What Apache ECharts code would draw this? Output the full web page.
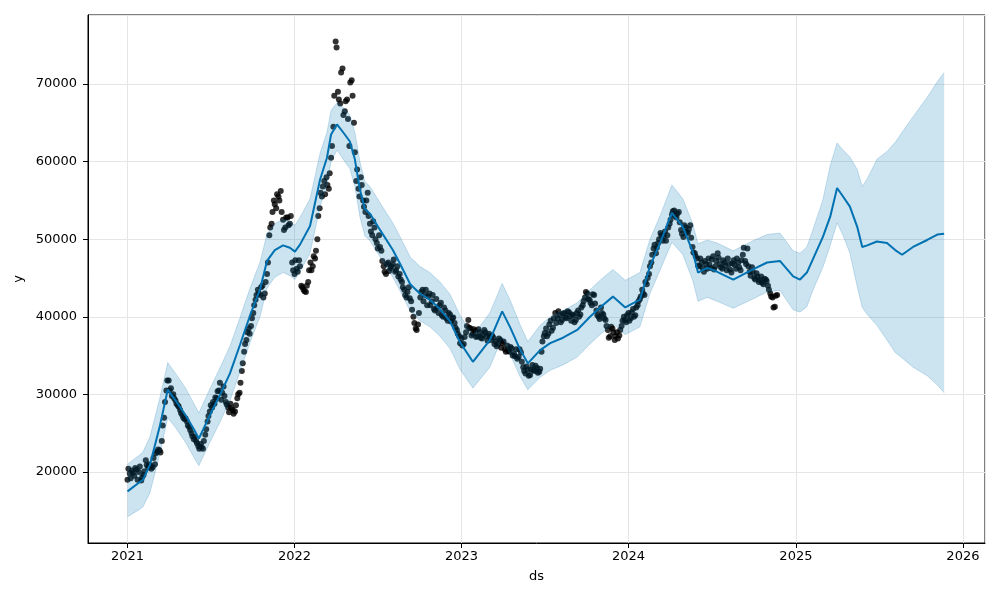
<!DOCTYPE html>
<html>
<head>
<meta charset="utf-8">
<script src="https://cdn.jsdelivr.net/npm/echarts@6/dist/echarts.min.js"></script>
<style>html,body{margin:0;padding:0;background:#fff}#c{width:1000px;height:600px}</style>
</head>
<body>
<div id="c"></div>
<script>
// ---- data ----
const startDate = '2021-01-01';
const obsStepDays = 5;   // observed samples every 5 days from startDate
const obsOffsetB = 2;    // second set of observed samples, 2 days after each of the first
const obsY = [
19000,19800,20200,19500,20300,20000,18900,19600,21500,20600,20800,
20600,21000,22600,22800,24000,27000,30500,31800,30800,30000,
29200,28600,28000,27300,26800,26500,25800,25000,24200,24000,23300,23600,23000,
24800,26500,27800,28300,28800,29500,30500,29300,31000,29000,28300,28800,28000,27800,29500,30200,
33000,35500,37000,38500,38800,40500,42200,43500,42800,44000,43000,45500,
50500,52000,55000,54000,55500,56200,52500,51500,52800,52000,
47000,45500,46200,47300,44000,43500,43200,44500,
47000,46500,47500,50000,
54000,55500,57500,58000,56500,60500,64500,75500,69000,67500,72000,66500,68000,62000,70500,65000,
57500,56500,58000,55000,53500,56000,52000,50500,51500,49500,50500,
48500,46500,45500,47000,46300,46800,45800,46500,45500,44500,
43500,42500,43800,42000,40000,38500,39000,42500,43500,42800,41500,43000,42000,41000,42300,40500,41800,40000,40800,39500,
40300,39800,39200,38300,37500,37200,
36500,38000,39600,38500,37800,38200,37500,38000,37200,38300,37500,37800,37000,37300,
36800,36500,37000,36600,35800,36300,35500,35900,35200,35800,34800,35400,33500,32700,33200,32500,33800,33000,33400,32900,
35500,37500,38500,37800,39500,38600,40500,39800,40200,39600,
40500,39800,40600,39500,40200,39600,40800,40300,41500,42500,43000,42200,41500,42800,40800,40000,41200,40300,39600,38300,37500,38500,37000,38000,37600,38800,
40000,39300,40500,39800,41000,40200,41500,42300,43500,42800,44200,45500,47000,48800,48200,49500,50800,49800,51000,50500,52000,53200,53700,52800,53500,51200,50300,51500,50800,51800,49000,48200,47500,46500,
47000,45800,46800,47500,46300,47800,46500,48200,46800,46200,47000,46000,46800,45700,47300,46200,47000,46000,48000,47200,48800,45800,46400,45000,45600,44500,45200,44200,44800,44000,43000,42500,41300,42800
];
const obsYB = [
20400,19200,19900,20500,19000,20700,19300,20100,20900,21000,20400,
21800,22400,22900,22500,26000,29000,31800,30500,29800,29500,
28800,28400,27600,27000,26900,26000,25400,24600,24500,23700,23000,23200,24000,
25500,27200,28600,29000,29600,30400,31500,30200,29800,28700,27700,28200,27500,28600,30000,31500,
34000,36500,38000,37800,39800,41500,42800,43000,43800,42500,44500,47000,
51500,53500,54500,55800,55000,53500,51200,52800,51800,53000,
46000,47300,45800,46500,43800,43300,44000,46000,
46000,47800,48500,53000,
56000,56800,55800,57000,58500,62000,68500,74700,68000,71500,66000,67800,65500,70200,68500,61200,
59000,55500,57000,54200,55000,53000,51000,52300,50000,48800,49000,
47200,45800,46800,45900,46500,47400,46000,45200,44800,43800,
42800,43200,42400,40900,39200,38300,40500,43200,42000,43500,42600,41500,42800,40800,41200,41500,40200,41200,39800,40500,
39400,39900,38600,37800,36600,36300,
37400,38800,38600,37600,38400,37400,38400,37300,37700,38000,36900,37500,37600,36500,
36200,37200,36000,36800,35500,35600,36100,35000,34900,34600,35800,34200,33000,33600,32400,33200,33100,33700,32800,33300,
36800,37900,37500,39000,38200,39800,39200,40700,39300,40400,
39900,40700,40100,40300,39300,40500,40000,41200,42000,43200,42300,41800,42900,41700,40200,39700,40500,39800,38800,37300,38700,38000,37500,37200,38300,39500,
39600,40200,39500,40600,40000,41200,42000,42600,43000,44500,45000,46500,48000,49300,48900,50000,50500,50400,49800,51500,52500,53600,53000,53300,52200,50700,51800,50900,51300,50200,48300,47800,46600,47500,
46300,47200,46200,46700,47400,46100,47200,47600,46400,47300,46600,47500,46100,46900,46700,47500,46400,47300,48900,46800,46500,45300,45800,44800,45200,44700,44400,44900,44600,43500,42600,41200,42700
];
// forecast samples: days since startDate
const fcDay = [0,27,34,49,71,88,104,126,148,156,180,202,224,246,268,290,305,322,340,355,366,377,399,421,436,445,458,475,486,497,508,519,530,552,580,596,618,639,661,683,705,727,755,792,819,836,858,875,902,924,952,983,1011,1033,1061,1088,1120,1142,1164,1190,1214,1236,1247,1267,1289,1324,1367,1398,1426,1455,1470,1485,1498,1520,1536,1551,1564,1579,1595,1606,1617,1638,1660,1678,1693,1717,1748,1770,1785];
const fcYhat = [17500,18700,19000,20900,26000,30600,29300,27400,25200,24300,27300,29900,32700,36400,40200,43600,47200,48600,49200,48900,48400,49300,51700,57700,60500,63500,64800,63500,62600,60300,56400,53900,53300,51200,48600,46800,44200,43000,42200,41000,39400,36700,34200,37000,40700,38700,35800,34000,35700,36600,37300,38300,40000,41200,42600,41200,42200,46500,49500,53400,51600,48300,45700,46300,45800,44800,46100,47000,47200,45200,44800,45700,47400,50300,52900,56600,55500,54200,51600,49000,49200,49700,49500,48600,48000,49000,49900,50600,50700];
const fcUpper = [21000,22200,22600,24500,29600,34100,32800,30900,28500,27600,30700,33400,36200,39900,43700,47100,50700,52000,52600,52300,51800,52800,55200,61100,63800,66600,67600,66800,66000,63800,60000,57400,56800,54700,52100,50300,47700,46500,45700,44500,42900,40200,37600,40500,44300,42200,39000,36800,38900,40000,40800,41800,43500,44700,46100,44700,45700,50000,53000,57000,55200,51900,49400,49900,49500,48500,49800,50600,50800,48500,48200,49000,51200,55100,59500,62400,61500,60600,59000,56800,57800,60300,61300,62500,63800,65800,68300,70300,71500];
const fcLower = [14200,15200,15500,17300,22400,27000,25800,23900,21600,20800,23800,26400,29200,32900,36700,40100,43700,45100,45700,45300,44800,45800,48200,54200,57000,60000,61500,60000,59100,56800,52900,50400,49800,47700,45100,43300,40700,39500,38700,37500,35900,33200,30800,33500,37300,35200,32300,30600,32200,33100,33800,34800,36500,37700,39100,37700,38700,43000,46000,49600,48000,44600,42000,42500,42000,41100,42300,43200,43400,40900,40600,41300,43400,46400,49200,52100,50500,48200,43900,41200,40300,38900,37000,35400,34700,33500,32400,31200,30200];
const yearTicks = ['2021','2022','2023','2024','2025','2026'];
const xName = 'ds', yName = 'y';

// ---- build ----
const DAY = 86400000;
const t0 = Date.parse(startDate + 'T00:00:00Z');
const obsData = obsY.map((v, i) => [t0 + i * obsStepDays * DAY, v])
  .concat(obsYB.map((v, i) => [t0 + (i * obsStepDays + obsOffsetB) * DAY, v]));
const yhatData = fcDay.map((d, i) => [t0 + d * DAY, fcYhat[i]]);
const lowData = fcDay.map((d, i) => [t0 + d * DAY, fcLower[i]]);
const bandData = fcDay.map((d, i) => [t0 + d * DAY, fcUpper[i] - fcLower[i]]);

const font = 'DejaVu Sans';
const chart = echarts.init(document.getElementById('c'), null, {renderer: 'canvas'});
chart.setOption({
  animation: false,
  useUTC: true,
  backgroundColor: '#fff',
  grid: {left: 88, right: 15, top: 15, bottom: 57, show: true, borderColor: '#000', borderWidth: 1, outerBoundsMode: 'none'},
  xAxis: {
    type: 'time',
    min: t0 - 86.3 * DAY,
    max: t0 + 1874.3 * DAY,
    splitNumber: 5,
    name: xName, nameLocation: 'middle', nameGap: 27,
    nameTextStyle: {color: '#000', fontFamily: font, fontSize: 13},
    axisLine: {show: true, lineStyle: {color: '#000', width: 1}},
    axisTick: {show: true, length: 5, lineStyle: {color: '#000'}},
    axisLabel: {
      color: '#000', fontFamily: font, fontSize: 13, margin: 7,
      showMinLabel: false, showMaxLabel: false,
      formatter: v => { const y = String(new Date(v).getUTCFullYear()); return yearTicks.includes(y) ? y : ''; }
    },
    splitLine: {show: true, lineStyle: {color: '#e5e5e5', width: 1}}
  },
  yAxis: {
    type: 'value',
    min: 10839, max: 78903,
    name: yName, nameLocation: 'middle', nameGap: 58, nameRotate: 90,
    nameTextStyle: {color: '#000', fontFamily: font, fontSize: 13},
    axisLine: {show: true, lineStyle: {color: '#000', width: 1}},
    axisTick: {show: true, length: 5, lineStyle: {color: '#000'}},
    axisLabel: {color: '#000', fontFamily: font, fontSize: 13, margin: 11, showMinLabel: false, showMaxLabel: false,
      formatter: v => String(Math.round(v))},
    splitLine: {show: true, lineStyle: {color: '#e5e5e5', width: 1}}
  },
  series: [
    {type: 'scatter', data: obsData, symbol: 'circle', symbolSize: 6, itemStyle: {color: '#000'}, z: 2, silent: true, large: false},
    {type: 'line', data: yhatData, symbol: 'none', lineStyle: {color: '#0072B2', width: 2}, z: 3, silent: true},
    {type: 'line', data: lowData, stack: 'band', symbol: 'none', lineStyle: {color: 'rgba(0,114,178,0.2)', width: 1}, z: 4, silent: true},
    {type: 'line', data: bandData, stack: 'band', symbol: 'none', lineStyle: {color: 'rgba(0,114,178,0.2)', width: 1},
      areaStyle: {color: 'rgba(0,114,178,0.2)', opacity: 1}, z: 4, silent: true}
  ]
});
</script>
</body>
</html>
